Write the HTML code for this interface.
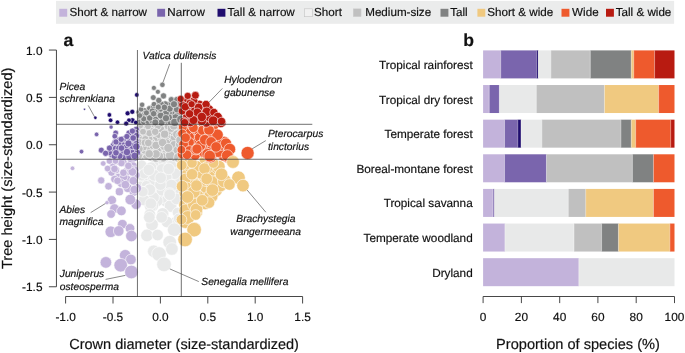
<!DOCTYPE html>
<html><head><meta charset="utf-8"><title>fig</title>
<style>
html,body{margin:0;padding:0;background:#fff;}
body{width:685px;height:353px;overflow:hidden;}
svg{display:block;will-change:transform;}
text{font-family:"Liberation Sans",sans-serif;fill:#111111;stroke:#111111;stroke-width:0.18px;text-rendering:geometricPrecision;}
.it{font-style:italic;font-size:10.25px;}
.tk{font-size:11.85px;}
.lg{font-size:11.65px;}
.ax{font-size:14.5px;}
.cat{font-size:11.75px;text-anchor:end;}
.pn{font-size:17.6px;font-weight:bold;}
.c circle{stroke:#fff;stroke-width:0.6;}
</style></head><body>
<svg width="685" height="353" viewBox="0 0 685 353">
<rect x="0" y="0" width="685" height="353" fill="#fff"/>
<rect x="56" y="0.9" width="618.1" height="22.9" fill="#EBECEC"/>
<rect x="59.3" y="8.8" width="7.9" height="7.9" fill="#C3B3DB"/>
<text class="lg" x="69.4" y="16.2">Short &amp; narrow</text>
<rect x="157.2" y="8.8" width="7.9" height="7.9" fill="#7A65AD"/>
<text class="lg" x="167.3" y="16.2">Narrow</text>
<rect x="217.5" y="8.8" width="7.9" height="7.9" fill="#1F0C6E"/>
<text class="lg" x="227.5" y="16.2">Tall &amp; narrow</text>
<rect x="304.5" y="8.8" width="7.9" height="7.9" fill="#F1F1F1" stroke="#c4c4c4" stroke-width="0.6"/>
<text class="lg" x="314.1" y="16.2">Short</text>
<rect x="353.2" y="8.8" width="7.9" height="7.9" fill="#C0C0C0" stroke="#d0d0d0" stroke-width="0.4"/>
<text class="lg" x="365.2" y="16.2">Medium-size</text>
<rect x="440.5" y="8.8" width="7.9" height="7.9" fill="#808282"/>
<text class="lg" x="450.2" y="16.2">Tall</text>
<rect x="477.4" y="8.8" width="7.9" height="7.9" fill="#F0C980"/>
<text class="lg" x="487.2" y="16.2">Short &amp; wide</text>
<rect x="561.5" y="8.8" width="7.9" height="7.9" fill="#EE5A2D"/>
<text class="lg" x="572.1" y="16.2">Wide</text>
<rect x="606.0" y="8.8" width="7.9" height="7.9" fill="#B81B11"/>
<text class="lg" x="615.7" y="16.2">Tall &amp; wide</text>
<g class="c">
<g fill="#E8E9E9"><circle cx="154.7" cy="163.5" r="4.60"/><circle cx="152.3" cy="178.7" r="4.93"/><circle cx="166.4" cy="201.4" r="5.91"/><circle cx="162.4" cy="197.7" r="5.70"/><circle cx="147.7" cy="168.2" r="4.54"/><circle cx="173.6" cy="196.8" r="5.98"/><circle cx="157.1" cy="195.6" r="5.51"/><circle cx="174.7" cy="163.7" r="5.13"/><circle cx="164.4" cy="170.6" r="5.04"/><circle cx="157.7" cy="185.8" r="5.27"/><circle cx="179.2" cy="181.3" r="5.72"/><circle cx="143.4" cy="180.5" r="4.75"/><circle cx="162.4" cy="160.8" r="4.73"/><circle cx="177.8" cy="195.7" r="6.06"/><circle cx="178.2" cy="170.1" r="5.39"/><circle cx="148.8" cy="203.9" r="5.51"/><circle cx="175.5" cy="190.2" r="5.85"/><circle cx="153.5" cy="203.5" r="5.62"/><circle cx="161.9" cy="190.5" r="5.50"/><circle cx="141.5" cy="176.4" r="4.59"/><circle cx="150.9" cy="184.4" r="5.05"/><circle cx="168.0" cy="182.4" r="5.45"/><circle cx="140.6" cy="186.0" r="4.82"/><circle cx="150.1" cy="193.6" r="5.27"/><circle cx="156.0" cy="172.6" r="4.87"/><circle cx="168.0" cy="175.4" r="5.26"/><circle cx="143.2" cy="197.4" r="5.19"/><circle cx="157.4" cy="200.9" r="5.66"/><circle cx="146.3" cy="185.5" r="4.96"/><circle cx="170.7" cy="160.8" r="4.95"/><circle cx="141.7" cy="165.2" r="5.30"/><circle cx="151.0" cy="167.7" r="5.80"/><circle cx="162.0" cy="169.4" r="5.80"/><circle cx="171.4" cy="165.2" r="5.30"/><circle cx="174.8" cy="173.7" r="5.80"/><circle cx="166.3" cy="177.1" r="5.80"/><circle cx="154.4" cy="175.4" r="5.80"/><circle cx="144.2" cy="173.7" r="5.30"/><circle cx="171.4" cy="185.6" r="6.30"/><circle cx="160.4" cy="184.7" r="5.80"/><circle cx="149.3" cy="189.8" r="5.80"/><circle cx="141.7" cy="191.5" r="5.30"/><circle cx="169.7" cy="194.0" r="6.30"/><circle cx="153.6" cy="197.5" r="5.80"/><circle cx="144.2" cy="200.0" r="5.80"/><circle cx="152.7" cy="206.0" r="5.80"/><circle cx="170.6" cy="206.0" r="6.30"/><circle cx="176.5" cy="199.0" r="5.80"/><circle cx="150.5" cy="207.0" r="5.80"/><circle cx="163.3" cy="213.9" r="5.80"/><circle cx="148.8" cy="169.9" r="5.80"/><circle cx="168.7" cy="168.9" r="5.80"/><circle cx="160.7" cy="177.8" r="5.80"/><circle cx="149.8" cy="189.7" r="5.80"/><circle cx="169.7" cy="194.7" r="5.80"/><circle cx="150.8" cy="203.6" r="5.80"/><circle cx="162.7" cy="213.5" r="5.80"/><circle cx="149.8" cy="214.5" r="5.80"/><circle cx="142.9" cy="191.7" r="5.30"/><circle cx="177.6" cy="212.5" r="5.30"/><circle cx="176.0" cy="222.0" r="5.80"/><circle cx="167.0" cy="222.0" r="5.80"/><circle cx="152.0" cy="224.5" r="6.30"/><circle cx="147.0" cy="235.4" r="6.30"/><circle cx="157.6" cy="235.0" r="5.80"/><circle cx="174.2" cy="229.7" r="6.80"/><circle cx="169.7" cy="242.2" r="6.80"/><circle cx="171.9" cy="249.0" r="6.30"/><circle cx="153.8" cy="251.3" r="6.30"/><circle cx="159.0" cy="254.0" r="7.30"/><circle cx="164.0" cy="264.4" r="7.30"/><circle cx="161.7" cy="217.3" r="5.80"/><circle cx="149.3" cy="217.3" r="5.80"/><circle cx="178.7" cy="218.4" r="5.30"/></g>
<g fill="#C0C0C0"><circle cx="172.4" cy="147.5" r="4.64"/><circle cx="157.1" cy="129.6" r="3.76"/><circle cx="142.8" cy="136.8" r="3.57"/><circle cx="165.2" cy="153.8" r="4.62"/><circle cx="154.6" cy="148.2" r="4.19"/><circle cx="177.5" cy="125.3" r="4.19"/><circle cx="169.8" cy="134.6" r="4.23"/><circle cx="154.4" cy="126.2" r="3.60"/><circle cx="164.6" cy="126.6" r="3.88"/><circle cx="142.1" cy="144.2" r="3.75"/><circle cx="145.0" cy="125.3" r="3.33"/><circle cx="175.8" cy="152.6" r="4.87"/><circle cx="159.7" cy="153.1" r="4.45"/><circle cx="162.8" cy="149.5" r="4.44"/><circle cx="160.2" cy="134.7" r="3.98"/><circle cx="178.8" cy="137.7" r="4.55"/><circle cx="157.6" cy="142.1" r="4.11"/><circle cx="164.6" cy="130.6" r="3.99"/><circle cx="168.3" cy="139.9" r="4.33"/><circle cx="142.1" cy="155.4" r="4.05"/><circle cx="150.5" cy="156.6" r="4.30"/><circle cx="166.6" cy="136.5" r="4.20"/><circle cx="175.8" cy="129.5" r="4.25"/><circle cx="151.0" cy="128.1" r="3.56"/><circle cx="150.4" cy="146.7" r="4.04"/><circle cx="179.8" cy="131.7" r="4.42"/><circle cx="160.8" cy="139.1" r="4.11"/><circle cx="146.2" cy="134.7" r="3.61"/><circle cx="177.4" cy="141.3" r="4.61"/><circle cx="146.5" cy="155.4" r="4.17"/><circle cx="146.0" cy="129.4" r="3.46"/><circle cx="171.9" cy="142.2" r="4.49"/><circle cx="152.3" cy="135.4" r="3.79"/><circle cx="140.0" cy="132.6" r="3.39"/><circle cx="174.5" cy="137.1" r="4.42"/><circle cx="174.7" cy="156.6" r="4.94"/><circle cx="140.2" cy="153.2" r="3.94"/><circle cx="165.1" cy="140.0" r="4.25"/><circle cx="157.3" cy="135.1" r="3.91"/><circle cx="154.1" cy="140.4" r="3.97"/><circle cx="152.7" cy="151.2" r="4.22"/><circle cx="151.2" cy="142.4" r="3.94"/><circle cx="179.9" cy="128.2" r="4.33"/><circle cx="173.2" cy="131.5" r="4.24"/><circle cx="155.8" cy="157.8" r="4.48"/><circle cx="149.2" cy="150.6" r="4.11"/><circle cx="149.2" cy="139.0" r="3.80"/><circle cx="178.4" cy="146.8" r="4.78"/><circle cx="160.9" cy="129.1" r="3.85"/><circle cx="152.0" cy="131.0" r="3.66"/><circle cx="167.1" cy="150.6" r="4.58"/><circle cx="140.0" cy="128.9" r="3.29"/><circle cx="144.6" cy="150.3" r="3.98"/><circle cx="147.6" cy="147.4" r="3.98"/><circle cx="159.9" cy="147.1" r="4.30"/><circle cx="180.4" cy="154.9" r="5.05"/><circle cx="168.0" cy="131.0" r="4.09"/><circle cx="169.8" cy="151.8" r="4.68"/><circle cx="157.0" cy="150.9" r="4.32"/><circle cx="175.0" cy="149.7" r="4.77"/><circle cx="168.1" cy="126.2" r="3.96"/><circle cx="139.0" cy="137.3" r="3.49"/><circle cx="140.3" cy="125.8" r="3.22"/><circle cx="164.3" cy="146.0" r="4.39"/><circle cx="163.1" cy="157.4" r="4.66"/><circle cx="153.0" cy="145.3" r="4.07"/><circle cx="148.0" cy="126.4" r="3.44"/><circle cx="141.8" cy="139.6" r="3.62"/><circle cx="149.3" cy="133.2" r="3.65"/><circle cx="143.5" cy="147.1" r="3.87"/><circle cx="166.2" cy="143.2" r="4.36"/><circle cx="145.3" cy="139.2" r="3.71"/><circle cx="139.5" cy="148.8" r="3.81"/><circle cx="156.0" cy="145.3" r="4.15"/><circle cx="171.4" cy="128.2" r="4.10"/><circle cx="159.1" cy="156.2" r="4.52"/><circle cx="164.6" cy="134.2" r="4.08"/><circle cx="174.3" cy="145.2" r="4.63"/><circle cx="177.0" cy="134.3" r="4.41"/><circle cx="143.0" cy="131.7" r="3.44"/><circle cx="139.1" cy="142.2" r="3.62"/><circle cx="144.9" cy="142.7" r="3.79"/><circle cx="157.7" cy="126.3" r="3.69"/><circle cx="162.6" cy="142.6" r="4.25"/><circle cx="155.2" cy="131.8" r="3.77"/><circle cx="153.4" cy="155.4" r="4.35"/><circle cx="180.8" cy="149.4" r="4.91"/><circle cx="180.4" cy="134.9" r="4.52"/><circle cx="148.3" cy="142.9" r="3.88"/><circle cx="173.3" cy="154.0" r="4.84"/><circle cx="177.9" cy="150.3" r="4.86"/><circle cx="170.2" cy="155.4" r="4.79"/><circle cx="180.2" cy="144.2" r="4.76"/><circle cx="138.6" cy="155.8" r="3.97"/><circle cx="180.4" cy="140.1" r="4.66"/><circle cx="178.7" cy="157.5" r="5.07"/><circle cx="155.9" cy="154.0" r="4.38"/><circle cx="168.3" cy="147.9" r="4.54"/><circle cx="173.8" cy="125.9" r="4.11"/><circle cx="149.2" cy="153.8" r="4.20"/></g>
<g fill="#808282"><circle cx="164.1" cy="120.3" r="3.70"/><circle cx="172.8" cy="107.1" r="3.58"/><circle cx="156.5" cy="113.6" r="3.32"/><circle cx="173.2" cy="120.1" r="3.94"/><circle cx="140.3" cy="118.9" r="3.04"/><circle cx="162.8" cy="106.9" r="3.31"/><circle cx="167.6" cy="120.6" r="3.80"/><circle cx="162.0" cy="118.1" r="3.59"/><circle cx="147.0" cy="117.1" r="3.17"/><circle cx="178.1" cy="106.0" r="3.70"/><circle cx="164.3" cy="115.6" r="3.58"/><circle cx="158.3" cy="105.4" r="3.16"/><circle cx="172.1" cy="110.9" r="3.67"/><circle cx="176.1" cy="112.2" r="3.81"/><circle cx="180.9" cy="109.0" r="3.85"/><circle cx="143.0" cy="114.6" r="2.99"/><circle cx="172.0" cy="104.4" r="3.49"/><circle cx="139.9" cy="122.3" r="3.12"/><circle cx="178.7" cy="117.5" r="4.02"/><circle cx="158.0" cy="121.4" r="3.57"/><circle cx="177.2" cy="102.4" r="3.57"/><circle cx="163.9" cy="109.5" r="3.41"/><circle cx="143.6" cy="121.6" r="3.20"/><circle cx="149.4" cy="113.1" r="3.12"/><circle cx="167.0" cy="109.5" r="3.49"/><circle cx="179.5" cy="122.3" r="4.16"/><circle cx="149.4" cy="108.6" r="3.00"/><circle cx="176.9" cy="120.4" r="4.04"/><circle cx="171.9" cy="116.3" r="3.80"/><circle cx="170.6" cy="121.2" r="3.90"/><circle cx="169.0" cy="105.2" r="3.43"/><circle cx="147.9" cy="121.1" r="3.29"/><circle cx="144.4" cy="110.6" r="2.93"/><circle cx="174.3" cy="114.5" r="3.82"/><circle cx="157.7" cy="108.3" r="3.22"/><circle cx="165.2" cy="104.1" r="3.30"/><circle cx="168.8" cy="112.9" r="3.63"/><circle cx="152.0" cy="120.4" r="3.39"/><circle cx="180.1" cy="101.3" r="3.62"/><circle cx="138.7" cy="112.2" r="2.82"/><circle cx="152.1" cy="116.3" r="3.28"/><circle cx="179.0" cy="111.6" r="3.87"/><circle cx="160.3" cy="112.4" r="3.39"/><circle cx="155.0" cy="110.0" r="3.19"/><circle cx="178.3" cy="114.6" r="3.93"/><circle cx="161.2" cy="104.2" r="3.20"/><circle cx="141.1" cy="109.3" r="2.80"/><circle cx="157.2" cy="116.8" r="3.43"/><circle cx="161.4" cy="122.5" r="3.69"/><circle cx="143.7" cy="118.8" r="3.12"/><circle cx="153.4" cy="106.3" r="3.05"/><circle cx="139.8" cy="115.6" r="2.93"/><circle cx="152.3" cy="111.1" r="3.15"/><circle cx="146.4" cy="112.9" r="3.04"/><circle cx="175.6" cy="117.6" r="3.94"/><circle cx="168.7" cy="117.4" r="3.75"/><circle cx="155.6" cy="119.6" r="3.46"/><circle cx="175.2" cy="104.9" r="3.59"/><circle cx="166.0" cy="112.8" r="3.55"/><circle cx="155.3" cy="122.4" r="3.53"/><circle cx="160.7" cy="115.5" r="3.49"/><circle cx="177.0" cy="109.2" r="3.75"/><circle cx="169.7" cy="108.7" r="3.55"/><circle cx="149.7" cy="118.0" r="3.26"/><circle cx="160.7" cy="108.8" r="3.31"/><circle cx="180.6" cy="104.2" r="3.71"/><circle cx="166.0" cy="118.2" r="3.70"/><circle cx="153.6" cy="113.7" r="3.25"/><circle cx="174.7" cy="122.4" r="4.04"/><circle cx="180.9" cy="119.4" r="4.12"/><circle cx="162.4" cy="84.8" r="2.70"/><circle cx="153.9" cy="87.9" r="2.50"/><circle cx="157.9" cy="91.8" r="2.50"/><circle cx="163.5" cy="95.9" r="3.10"/><circle cx="153.3" cy="97.6" r="2.90"/><circle cx="158.8" cy="100.4" r="3.10"/><circle cx="171.3" cy="99.7" r="3.10"/><circle cx="176.6" cy="99.4" r="2.80"/><circle cx="174.0" cy="104.2" r="3.60"/><circle cx="142.1" cy="104.8" r="2.70"/><circle cx="154.0" cy="104.2" r="2.80"/><circle cx="164.4" cy="107.4" r="3.30"/><circle cx="158.3" cy="107.1" r="3.10"/></g>
<g fill="#C3B3DB"><circle cx="123.4" cy="162.5" r="3.74"/><circle cx="112.8" cy="166.5" r="3.57"/><circle cx="131.5" cy="160.8" r="3.91"/><circle cx="133.7" cy="191.4" r="4.78"/><circle cx="118.4" cy="177.2" r="4.00"/><circle cx="114.6" cy="179.1" r="3.95"/><circle cx="133.0" cy="166.0" r="4.09"/><circle cx="134.7" cy="170.2" r="4.24"/><circle cx="125.2" cy="183.3" r="4.34"/><circle cx="127.8" cy="188.0" r="4.53"/><circle cx="126.7" cy="171.6" r="4.07"/><circle cx="136.8" cy="188.2" r="4.78"/><circle cx="109.1" cy="169.2" r="3.54"/><circle cx="127.0" cy="179.4" r="4.28"/><circle cx="115.9" cy="170.1" r="3.75"/><circle cx="123.7" cy="176.9" r="4.13"/><circle cx="136.1" cy="204.3" r="5.18"/><circle cx="135.6" cy="175.1" r="4.40"/><circle cx="130.8" cy="169.4" r="4.12"/><circle cx="111.6" cy="172.6" r="3.69"/><circle cx="118.5" cy="161.6" r="3.59"/><circle cx="121.2" cy="183.1" r="4.23"/><circle cx="72.5" cy="168.3" r="2.30"/><circle cx="103.2" cy="163.5" r="2.80"/><circle cx="101.2" cy="180.4" r="3.60"/><circle cx="108.5" cy="186.3" r="3.80"/><circle cx="107.6" cy="168.5" r="3.30"/><circle cx="109.5" cy="161.0" r="3.30"/><circle cx="114.5" cy="168.9" r="3.80"/><circle cx="117.5" cy="180.8" r="3.80"/><circle cx="119.4" cy="191.7" r="4.10"/><circle cx="111.9" cy="200.2" r="4.60"/><circle cx="107.0" cy="202.7" r="2.10"/><circle cx="114.5" cy="208.6" r="4.80"/><circle cx="121.4" cy="210.9" r="4.80"/><circle cx="111.1" cy="214.0" r="4.30"/><circle cx="121.4" cy="163.0" r="3.80"/><circle cx="123.4" cy="172.8" r="3.80"/><circle cx="125.4" cy="184.7" r="4.30"/><circle cx="130.3" cy="199.6" r="5.30"/><circle cx="132.3" cy="171.8" r="4.30"/><circle cx="133.3" cy="180.8" r="4.30"/><circle cx="134.3" cy="189.7" r="4.30"/><circle cx="128.4" cy="165.9" r="3.80"/><circle cx="115.5" cy="161.0" r="3.30"/><circle cx="122.4" cy="224.2" r="4.80"/><circle cx="130.0" cy="228.4" r="4.80"/><circle cx="110.8" cy="231.8" r="5.80"/><circle cx="118.7" cy="231.0" r="5.30"/><circle cx="131.4" cy="236.0" r="5.80"/><circle cx="125.2" cy="255.3" r="5.80"/><circle cx="130.9" cy="259.5" r="5.30"/><circle cx="105.9" cy="262.4" r="5.80"/><circle cx="120.7" cy="265.2" r="6.80"/><circle cx="131.4" cy="272.0" r="6.80"/></g>
<g fill="#7A65AD"><circle cx="123.5" cy="138.8" r="3.12"/><circle cx="120.3" cy="152.4" r="3.39"/><circle cx="126.2" cy="156.0" r="3.64"/><circle cx="136.3" cy="129.4" r="3.21"/><circle cx="132.9" cy="136.5" r="3.31"/><circle cx="116.9" cy="152.1" r="3.30"/><circle cx="113.2" cy="145.2" r="3.01"/><circle cx="126.5" cy="139.0" r="3.20"/><circle cx="117.1" cy="145.3" r="3.12"/><circle cx="131.0" cy="148.6" r="3.58"/><circle cx="123.2" cy="153.8" r="3.51"/><circle cx="129.2" cy="136.5" r="3.21"/><circle cx="130.2" cy="144.9" r="3.46"/><circle cx="124.8" cy="141.5" r="3.22"/><circle cx="132.4" cy="155.9" r="3.80"/><circle cx="121.7" cy="147.6" r="3.30"/><circle cx="109.8" cy="148.7" r="3.02"/><circle cx="135.8" cy="132.5" r="3.27"/><circle cx="114.8" cy="142.3" r="2.98"/><circle cx="135.6" cy="148.4" r="3.69"/><circle cx="134.1" cy="151.0" r="3.72"/><circle cx="119.4" cy="139.8" r="3.03"/><circle cx="121.5" cy="142.3" r="3.16"/><circle cx="132.0" cy="132.8" r="3.18"/><circle cx="123.3" cy="156.9" r="3.59"/><circle cx="112.8" cy="150.8" r="3.15"/><circle cx="123.4" cy="151.0" r="3.44"/><circle cx="115.5" cy="148.4" r="3.16"/><circle cx="135.7" cy="141.2" r="3.50"/><circle cx="135.2" cy="157.1" r="3.91"/><circle cx="132.4" cy="142.1" r="3.44"/><circle cx="126.9" cy="151.6" r="3.55"/><circle cx="119.6" cy="155.9" r="3.47"/><circle cx="129.0" cy="133.0" r="3.11"/><circle cx="111.8" cy="154.8" r="3.23"/><circle cx="114.4" cy="156.1" r="3.33"/><circle cx="136.7" cy="152.6" r="3.83"/><circle cx="136.2" cy="144.1" r="3.60"/><circle cx="128.8" cy="153.9" r="3.66"/><circle cx="109.3" cy="152.6" r="3.11"/><circle cx="131.3" cy="152.4" r="3.68"/><circle cx="127.8" cy="148.5" r="3.49"/><circle cx="129.5" cy="156.8" r="3.75"/><circle cx="129.2" cy="141.3" r="3.34"/><circle cx="136.3" cy="135.7" r="3.37"/><circle cx="123.2" cy="145.2" r="3.28"/><circle cx="118.8" cy="142.9" r="3.10"/><circle cx="125.0" cy="147.6" r="3.39"/><circle cx="132.7" cy="146.2" r="3.56"/><circle cx="118.9" cy="148.2" r="3.25"/><circle cx="81.5" cy="151.6" r="2.30"/><circle cx="96.6" cy="134.4" r="2.30"/><circle cx="111.1" cy="127.1" r="2.10"/><circle cx="101.3" cy="150.2" r="3.00"/><circle cx="105.6" cy="153.3" r="3.10"/><circle cx="109.5" cy="148.1" r="3.10"/><circle cx="115.7" cy="132.9" r="2.80"/><circle cx="114.8" cy="136.2" r="2.80"/><circle cx="116.0" cy="141.9" r="3.10"/><circle cx="121.2" cy="139.3" r="3.10"/><circle cx="126.9" cy="136.5" r="3.10"/><circle cx="132.4" cy="131.0" r="3.10"/><circle cx="128.5" cy="143.5" r="3.60"/><circle cx="126.9" cy="152.0" r="3.80"/><circle cx="134.7" cy="155.9" r="3.80"/><circle cx="136.3" cy="146.6" r="3.80"/><circle cx="116.0" cy="152.8" r="3.30"/><circle cx="121.5" cy="148.1" r="3.30"/><circle cx="133.2" cy="138.0" r="3.30"/></g>
<g fill="#1F0C6E"><circle cx="84.5" cy="109.2" r="1.00"/><circle cx="95.4" cy="117.8" r="1.70"/><circle cx="109.4" cy="114.9" r="2.30"/><circle cx="110.6" cy="120.3" r="2.30"/><circle cx="117.5" cy="122.2" r="2.30"/><circle cx="127.6" cy="113.3" r="2.50"/><circle cx="132.3" cy="111.8" r="2.50"/><circle cx="136.8" cy="94.9" r="2.30"/><circle cx="132.3" cy="120.5" r="2.80"/><circle cx="129.0" cy="120.2" r="2.30"/><circle cx="126.2" cy="123.6" r="2.50"/><circle cx="135.8" cy="122.5" r="2.30"/></g>
<g fill="#F0C980"><circle cx="187.6" cy="173.0" r="5.72"/><circle cx="189.4" cy="167.0" r="5.61"/><circle cx="191.7" cy="187.5" r="6.21"/><circle cx="218.9" cy="175.6" r="6.62"/><circle cx="210.5" cy="187.0" r="6.70"/><circle cx="186.0" cy="197.8" r="6.33"/><circle cx="185.2" cy="192.8" r="6.18"/><circle cx="182.3" cy="162.1" r="5.29"/><circle cx="204.1" cy="196.0" r="6.77"/><circle cx="205.1" cy="202.8" r="6.97"/><circle cx="198.0" cy="180.6" r="6.20"/><circle cx="194.6" cy="184.1" r="6.20"/><circle cx="185.5" cy="221.5" r="6.95"/><circle cx="206.0" cy="186.7" r="6.57"/><circle cx="185.2" cy="204.9" r="6.50"/><circle cx="192.4" cy="180.0" r="6.03"/><circle cx="197.1" cy="196.2" r="6.58"/><circle cx="216.2" cy="170.5" r="6.41"/><circle cx="196.7" cy="172.3" r="5.94"/><circle cx="209.8" cy="171.0" r="6.25"/><circle cx="205.2" cy="160.5" r="5.85"/><circle cx="206.1" cy="180.1" r="6.40"/><circle cx="209.2" cy="177.1" r="6.40"/><circle cx="190.2" cy="208.1" r="6.72"/><circle cx="185.3" cy="179.0" r="5.82"/><circle cx="215.5" cy="190.0" r="6.91"/><circle cx="195.8" cy="211.9" r="6.96"/><circle cx="217.4" cy="181.7" r="6.74"/><circle cx="192.9" cy="173.9" r="5.88"/><circle cx="192.6" cy="198.4" r="6.52"/><circle cx="218.8" cy="166.6" r="6.37"/><circle cx="220.2" cy="185.0" r="6.90"/><circle cx="211.1" cy="196.0" r="6.95"/><circle cx="186.9" cy="163.9" r="5.46"/><circle cx="185.5" cy="210.6" r="6.66"/><circle cx="187.9" cy="217.5" r="6.90"/><circle cx="211.9" cy="182.3" r="6.61"/><circle cx="186.7" cy="188.1" r="6.09"/><circle cx="194.2" cy="204.5" r="6.73"/><circle cx="201.2" cy="173.1" r="6.08"/><circle cx="206.9" cy="167.4" r="6.08"/><circle cx="193.8" cy="192.0" r="6.38"/><circle cx="224.4" cy="180.9" r="6.90"/><circle cx="182.2" cy="186.3" r="5.93"/><circle cx="196.5" cy="166.3" r="5.78"/><circle cx="232.4" cy="161.3" r="6.30"/><circle cx="238.5" cy="177.7" r="6.80"/><circle cx="243.0" cy="185.6" r="6.30"/><circle cx="229.4" cy="184.5" r="5.80"/><circle cx="221.5" cy="174.3" r="6.30"/><circle cx="212.4" cy="190.1" r="6.30"/><circle cx="209.0" cy="202.6" r="5.80"/><circle cx="196.5" cy="209.4" r="6.30"/><circle cx="194.3" cy="228.7" r="6.80"/><circle cx="187.5" cy="197.0" r="6.30"/><circle cx="196.5" cy="185.6" r="5.80"/><circle cx="192.0" cy="174.3" r="5.80"/><circle cx="204.5" cy="168.6" r="5.80"/><circle cx="192.0" cy="162.9" r="5.30"/><circle cx="181.8" cy="165.2" r="5.30"/><circle cx="213.5" cy="163.0" r="5.30"/><circle cx="202.2" cy="200.3" r="5.80"/><circle cx="206.7" cy="178.8" r="5.80"/><circle cx="194.1" cy="229.7" r="7.30"/><circle cx="185.1" cy="239.5" r="7.30"/><circle cx="181.5" cy="219.5" r="5.30"/><circle cx="195.7" cy="215.0" r="5.30"/></g>
<g fill="#EE5A2D"><circle cx="207.0" cy="132.0" r="5.15"/><circle cx="202.6" cy="134.1" r="5.09"/><circle cx="207.7" cy="144.3" r="5.49"/><circle cx="203.4" cy="125.9" r="4.89"/><circle cx="202.6" cy="139.7" r="5.23"/><circle cx="195.1" cy="134.1" r="4.89"/><circle cx="187.6" cy="154.6" r="5.23"/><circle cx="217.1" cy="138.0" r="5.57"/><circle cx="213.9" cy="150.0" r="5.80"/><circle cx="223.7" cy="147.3" r="5.99"/><circle cx="188.0" cy="146.7" r="5.03"/><circle cx="216.8" cy="146.6" r="5.79"/><circle cx="224.1" cy="142.0" r="5.86"/><circle cx="195.3" cy="139.2" r="5.03"/><circle cx="213.3" cy="134.4" r="5.37"/><circle cx="203.5" cy="148.3" r="5.48"/><circle cx="212.6" cy="142.1" r="5.56"/><circle cx="227.6" cy="156.6" r="6.34"/><circle cx="184.9" cy="136.6" r="4.68"/><circle cx="195.0" cy="154.8" r="5.43"/><circle cx="211.9" cy="146.4" r="5.66"/><circle cx="210.6" cy="157.0" r="5.90"/><circle cx="226.9" cy="149.6" r="6.14"/><circle cx="211.5" cy="129.8" r="5.21"/><circle cx="189.6" cy="136.9" r="4.82"/><circle cx="198.5" cy="131.2" r="4.90"/><circle cx="212.3" cy="153.7" r="5.86"/><circle cx="207.7" cy="149.4" r="5.63"/><circle cx="199.5" cy="137.5" r="5.09"/><circle cx="203.4" cy="143.3" r="5.35"/><circle cx="223.9" cy="155.0" r="6.20"/><circle cx="213.5" cy="125.9" r="5.16"/><circle cx="218.1" cy="151.5" r="5.96"/><circle cx="189.4" cy="142.5" r="4.96"/><circle cx="183.6" cy="144.4" r="4.85"/><circle cx="204.2" cy="152.2" r="5.61"/><circle cx="187.5" cy="130.3" r="4.59"/><circle cx="182.8" cy="127.1" r="4.38"/><circle cx="189.6" cy="150.9" r="5.19"/><circle cx="205.9" cy="138.4" r="5.29"/><circle cx="202.5" cy="130.4" r="4.99"/><circle cx="182.3" cy="153.9" r="5.07"/><circle cx="196.1" cy="149.6" r="5.32"/><circle cx="207.6" cy="154.2" r="5.75"/><circle cx="200.3" cy="145.5" r="5.33"/><circle cx="191.9" cy="125.9" r="4.59"/><circle cx="208.4" cy="127.7" r="5.07"/><circle cx="220.3" cy="144.7" r="5.83"/><circle cx="182.3" cy="133.6" r="4.54"/><circle cx="209.7" cy="135.8" r="5.32"/><circle cx="247.6" cy="153.0" r="6.60"/><circle cx="226.0" cy="143.5" r="5.60"/><circle cx="229.8" cy="149.2" r="5.90"/><circle cx="227.3" cy="155.6" r="5.90"/><circle cx="217.5" cy="134.8" r="5.80"/><circle cx="209.0" cy="129.9" r="5.30"/><circle cx="204.8" cy="139.8" r="5.30"/><circle cx="211.1" cy="141.9" r="5.30"/><circle cx="216.1" cy="146.9" r="5.30"/><circle cx="209.7" cy="156.1" r="5.80"/><circle cx="197.0" cy="149.0" r="5.10"/><circle cx="187.0" cy="154.7" r="4.80"/><circle cx="185.6" cy="137.7" r="4.80"/><circle cx="193.4" cy="127.8" r="4.80"/><circle cx="181.4" cy="149.7" r="4.30"/></g>
<g fill="#B81B11"><circle cx="197.5" cy="109.2" r="4.29"/><circle cx="185.4" cy="107.8" r="3.93"/><circle cx="199.5" cy="104.4" r="4.22"/><circle cx="205.4" cy="118.7" r="4.75"/><circle cx="210.9" cy="112.3" r="4.73"/><circle cx="213.3" cy="116.4" r="4.90"/><circle cx="193.9" cy="100.6" r="3.97"/><circle cx="190.2" cy="111.4" r="4.16"/><circle cx="186.8" cy="116.0" r="4.19"/><circle cx="183.7" cy="121.5" r="4.25"/><circle cx="202.3" cy="117.1" r="4.63"/><circle cx="185.6" cy="101.4" r="3.77"/><circle cx="190.4" cy="122.3" r="4.45"/><circle cx="204.4" cy="111.7" r="4.54"/><circle cx="211.8" cy="121.1" r="4.98"/><circle cx="220.9" cy="122.4" r="5.26"/><circle cx="191.3" cy="115.8" r="4.30"/><circle cx="196.4" cy="119.4" r="4.53"/><circle cx="206.2" cy="122.4" r="4.87"/><circle cx="201.8" cy="120.9" r="4.72"/><circle cx="194.9" cy="107.1" r="4.17"/><circle cx="209.9" cy="117.3" r="4.84"/><circle cx="209.0" cy="109.4" r="4.60"/><circle cx="182.1" cy="111.1" r="3.93"/><circle cx="189.8" cy="103.2" r="3.93"/><circle cx="215.2" cy="120.9" r="5.07"/><circle cx="195.0" cy="114.8" r="4.37"/><circle cx="182.4" cy="104.7" r="3.77"/><circle cx="203.9" cy="107.2" r="4.41"/><circle cx="199.7" cy="112.9" r="4.45"/><circle cx="194.5" cy="110.8" r="4.25"/><circle cx="217.9" cy="118.6" r="5.08"/><circle cx="187.7" cy="95.9" r="3.60"/><circle cx="195.4" cy="95.3" r="3.93"/><circle cx="180.7" cy="98.9" r="3.60"/><circle cx="206.0" cy="104.5" r="4.15"/><circle cx="185.4" cy="106.8" r="4.15"/><circle cx="198.6" cy="107.4" r="4.26"/><circle cx="206.8" cy="111.8" r="4.70"/><circle cx="191.6" cy="104.2" r="3.60"/><circle cx="197.3" cy="112.5" r="4.48"/><circle cx="201.8" cy="117.0" r="4.70"/><circle cx="213.9" cy="112.5" r="4.15"/><circle cx="217.7" cy="117.0" r="4.70"/><circle cx="213.2" cy="120.8" r="4.92"/><circle cx="221.5" cy="121.4" r="4.15"/><circle cx="193.5" cy="120.1" r="4.48"/><circle cx="184.6" cy="122.7" r="4.15"/><circle cx="189.6" cy="113.8" r="4.15"/></g>
<circle cx="233" cy="162" r="6.4" fill="#F0C980"/></g>
<g stroke="#333333" stroke-width="0.9" fill="none">
<path d="M56.45 50.06V286.76M48.9 50.06H56.45M48.9 97.40H56.45M48.9 144.74H56.45M48.9 192.08H56.45M48.9 239.42H56.45M48.9 286.76H56.45M65.60 296.5H302.60M65.60 296.5V303.5M113.00 296.5V303.5M160.40 296.5V303.5M207.80 296.5V303.5M255.20 296.5V303.5M302.60 296.5V303.5"/>
</g>
<rect x="141" y="48" width="77" height="14.8" fill="#fff"/>
<g stroke="#333" stroke-width="0.7" fill="none">
<path d="M56.45 124.30H312.3M56.45 159.25H312.3M137.45 50V296.5M181.30 62.8V296.5"/>
</g>
<g stroke="#3a3a3a" stroke-width="0.6" fill="none">
<path d="M88.2 105.4L94.6 116.9M169.7 64.1L163 82.3M222.4 88.4L209.2 102.1M265.8 140.6L252.2 148.8M265.8 212.2L247.2 190.1M90.7 212.6L105.4 203.5M105.6 279.4L125.3 275.4M198.8 281.6L169.8 268.9"/>
</g>
<text class="tk" text-anchor="end" x="42.5" y="54.5">1.0</text>
<text class="tk" text-anchor="end" x="42.5" y="101.9">0.5</text>
<text class="tk" text-anchor="end" x="42.5" y="149.2">0.0</text>
<text class="tk" text-anchor="end" x="42.5" y="196.5">-0.5</text>
<text class="tk" text-anchor="end" x="42.5" y="243.9">-1.0</text>
<text class="tk" text-anchor="end" x="42.5" y="291.2">-1.5</text>
<text class="tk" text-anchor="middle" x="65.6" y="321.1">-1.0</text>
<text class="tk" text-anchor="middle" x="113.0" y="321.1">-0.5</text>
<text class="tk" text-anchor="middle" x="160.4" y="321.1">0.0</text>
<text class="tk" text-anchor="middle" x="207.8" y="321.1">0.5</text>
<text class="tk" text-anchor="middle" x="255.2" y="321.1">1.0</text>
<text class="tk" text-anchor="middle" x="302.6" y="321.1">1.5</text>
<text class="ax" text-anchor="middle" x="184.1" y="348.5">Crown diameter (size-standardized)</text>
<text class="ax" style="font-size:14.6px" text-anchor="middle" transform="translate(11.9,168.35) rotate(-90)">Tree height (size-standardized)</text>
<text class="pn" x="63.6" y="46.4">a</text>
<text class="it" x="142.6" y="59.2">Vatica dulitensis</text>
<text class="it" x="59.6" y="89.7">Picea</text>
<text class="it" x="59.6" y="102.2">schrenkiana</text>
<text class="it" x="224.2" y="83.4">Hylodendron</text>
<text class="it" x="224.2" y="95.9">gabunense</text>
<text class="it" x="268.0" y="136.9">Pterocarpus</text>
<text class="it" x="268.0" y="149.5">tinctorius</text>
<text class="it" x="236.3" y="222.0">Brachystegia</text>
<text class="it" x="230.3" y="234.5">wangermeeana</text>
<text class="it" x="59.5" y="212.5">Abies</text>
<text class="it" x="59.5" y="224.8">magnifica</text>
<text class="it" x="59.8" y="277.1">Juniperus</text>
<text class="it" x="59.8" y="289.5">osteosperma</text>
<text class="it" x="201.3" y="285.2">Senegalia mellifera</text>
<text class="pn" x="463.2" y="46.3">b</text>
<g><rect x="483.10" y="50.40" width="17.81" height="28" fill="#C3B3DB"/><rect x="500.71" y="50.40" width="36.28" height="28" fill="#7A65AD"/><rect x="536.79" y="50.40" width="1.54" height="28" fill="#1F0C6E"/><rect x="538.13" y="50.40" width="12.93" height="28" fill="#E8E9E9"/><rect x="550.86" y="50.40" width="39.63" height="28" fill="#C0C0C0"/><rect x="590.28" y="50.40" width="41.16" height="28" fill="#808282"/><rect x="631.24" y="50.40" width="2.69" height="28" fill="#F0C980"/><rect x="633.73" y="50.40" width="21.06" height="28" fill="#EE5A2D"/><rect x="654.59" y="50.40" width="19.91" height="28" fill="#B81B11"/><path d="M500.71 50.40V78.40M536.79 50.40V78.40M550.86 50.40V78.40M590.28 50.40V78.40M631.24 50.40V78.40M633.73 50.40V78.40M654.59 50.40V78.40" stroke="#fff" stroke-width="0.45" stroke-opacity="0.8" fill="none"/></g>
<text class="cat" x="472.7" y="68.8">Tropical rainforest</text>
<g><rect x="483.10" y="85.03" width="6.32" height="28" fill="#C3B3DB"/><rect x="489.22" y="85.03" width="10.34" height="28" fill="#7A65AD"/><rect x="499.37" y="85.03" width="37.14" height="28" fill="#E8E9E9"/><rect x="536.31" y="85.03" width="68.34" height="28" fill="#C0C0C0"/><rect x="604.45" y="85.03" width="54.37" height="28" fill="#F0C980"/><rect x="658.61" y="85.03" width="15.89" height="28" fill="#EE5A2D"/><path d="M489.22 85.03V113.03M499.37 85.03V113.03M536.31 85.03V113.03M604.45 85.03V113.03M658.61 85.03V113.03" stroke="#fff" stroke-width="0.45" stroke-opacity="0.8" fill="none"/></g>
<text class="cat" x="472.7" y="103.5">Tropical dry forest</text>
<g><rect x="483.10" y="119.66" width="21.64" height="28" fill="#C3B3DB"/><rect x="504.54" y="119.66" width="13.41" height="28" fill="#7A65AD"/><rect x="517.74" y="119.66" width="3.45" height="28" fill="#1F0C6E"/><rect x="521.00" y="119.66" width="21.06" height="28" fill="#E8E9E9"/><rect x="541.86" y="119.66" width="79.25" height="28" fill="#C0C0C0"/><rect x="620.91" y="119.66" width="10.54" height="28" fill="#808282"/><rect x="631.24" y="119.66" width="4.60" height="28" fill="#F0C980"/><rect x="635.65" y="119.66" width="35.23" height="28" fill="#EE5A2D"/><rect x="670.67" y="119.66" width="3.83" height="28" fill="#B81B11"/><path d="M504.54 119.66V147.66M517.74 119.66V147.66M521.00 119.66V147.66M541.86 119.66V147.66M620.91 119.66V147.66M631.24 119.66V147.66M635.65 119.66V147.66M670.67 119.66V147.66" stroke="#fff" stroke-width="0.45" stroke-opacity="0.8" fill="none"/></g>
<text class="cat" x="472.7" y="138.1">Temperate forest</text>
<g><rect x="483.10" y="154.29" width="21.64" height="28" fill="#C3B3DB"/><rect x="504.54" y="154.29" width="42.12" height="28" fill="#7A65AD"/><rect x="546.45" y="154.29" width="86.14" height="28" fill="#C0C0C0"/><rect x="632.39" y="154.29" width="21.25" height="28" fill="#808282"/><rect x="653.45" y="154.29" width="21.05" height="28" fill="#EE5A2D"/><path d="M504.54 154.29V182.29M546.45 154.29V182.29M632.39 154.29V182.29M653.45 154.29V182.29" stroke="#fff" stroke-width="0.45" stroke-opacity="0.8" fill="none"/></g>
<text class="cat" x="472.7" y="172.7">Boreal-montane forest</text>
<g><rect x="483.10" y="188.92" width="10.15" height="28" fill="#C3B3DB"/><rect x="493.05" y="188.92" width="1.44" height="28" fill="#7A65AD"/><rect x="494.30" y="188.92" width="74.18" height="28" fill="#E8E9E9"/><rect x="568.27" y="188.92" width="17.62" height="28" fill="#C0C0C0"/><rect x="585.69" y="188.92" width="67.96" height="28" fill="#F0C980"/><rect x="653.45" y="188.92" width="21.05" height="28" fill="#EE5A2D"/><path d="M493.05 188.92V216.92M568.27 188.92V216.92M585.69 188.92V216.92M653.45 188.92V216.92" stroke="#fff" stroke-width="0.45" stroke-opacity="0.8" fill="none"/></g>
<text class="cat" x="472.7" y="207.4">Tropical savanna</text>
<g><rect x="483.10" y="223.55" width="22.02" height="28" fill="#C3B3DB"/><rect x="504.92" y="223.55" width="69.30" height="28" fill="#E8E9E9"/><rect x="574.01" y="223.55" width="27.76" height="28" fill="#C0C0C0"/><rect x="601.58" y="223.55" width="17.04" height="28" fill="#808282"/><rect x="618.42" y="223.55" width="51.69" height="28" fill="#F0C980"/><rect x="669.91" y="223.55" width="4.59" height="28" fill="#EE5A2D"/><path d="M504.92 223.55V251.55M574.01 223.55V251.55M601.58 223.55V251.55M618.42 223.55V251.55M669.91 223.55V251.55" stroke="#fff" stroke-width="0.45" stroke-opacity="0.8" fill="none"/></g>
<text class="cat" x="472.7" y="242.0">Temperate woodland</text>
<g><rect x="483.10" y="258.18" width="95.90" height="28" fill="#C3B3DB"/><rect x="578.80" y="258.18" width="95.70" height="28" fill="#E8E9E9"/><path d="M578.80 258.18V286.18" stroke="#fff" stroke-width="0.45" stroke-opacity="0.8" fill="none"/></g>
<text class="cat" x="472.7" y="276.6">Dryland</text>
<g stroke="#333333" stroke-width="0.9" fill="none"><path d="M483.1 296.5H674.5M483.1 296.5V303.1M521.4 296.5V303.1M559.7 296.5V303.1M597.9 296.5V303.1M636.2 296.5V303.1M674.5 296.5V303.1"/></g>
<text class="tk" text-anchor="middle" x="483.1" y="321.1">0</text>
<text class="tk" text-anchor="middle" x="521.4" y="321.1">20</text>
<text class="tk" text-anchor="middle" x="559.7" y="321.1">40</text>
<text class="tk" text-anchor="middle" x="597.9" y="321.1">60</text>
<text class="tk" text-anchor="middle" x="636.2" y="321.1">80</text>
<text class="tk" text-anchor="middle" x="674.5" y="321.1">100</text>
<text class="ax" style="font-size:14.6px" text-anchor="middle" x="578" y="348.5">Proportion of species (%)</text>
</svg>
</body></html>
